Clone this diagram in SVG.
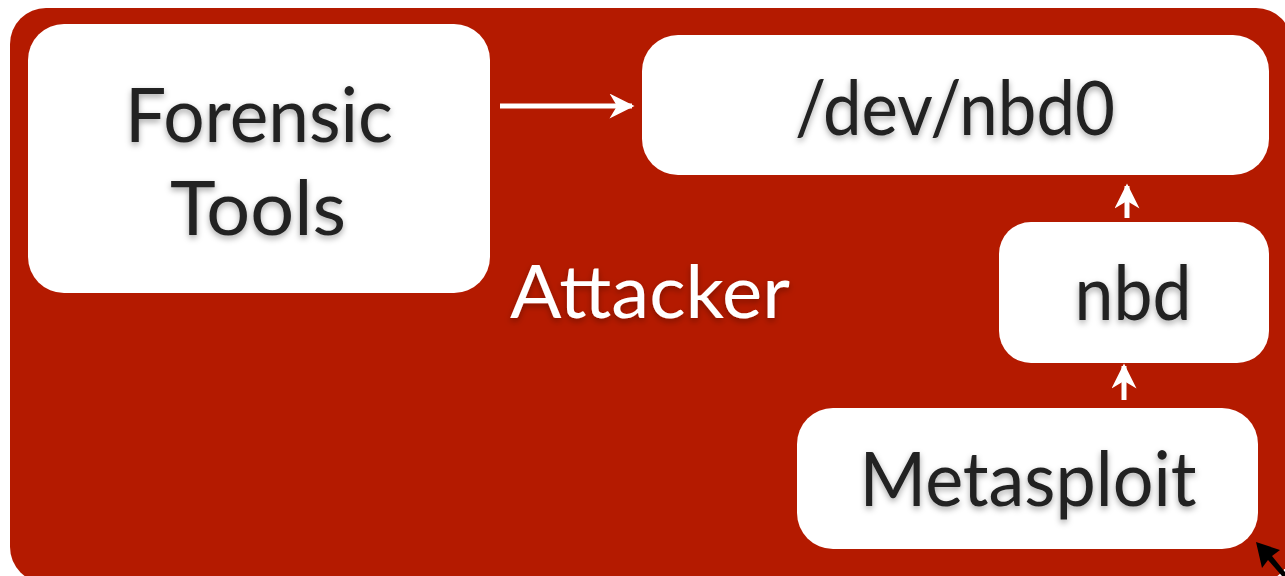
<svg xmlns="http://www.w3.org/2000/svg" width="1285" height="576" viewBox="0 0 1285 576">
<defs>
<style>
.box{fill:#ffffff}
.lbl{font-family:Lato,"Open Sans","Liberation Sans",sans-serif;fill:#222222;text-anchor:middle;filter:url(#sh)}
.title{font-family:Lato,"Open Sans","Liberation Sans",sans-serif;fill:#ffffff;text-anchor:middle;filter:url(#sh2)}
.conn{stroke:#ffffff;stroke-width:5;fill:none}
</style>
<filter id="sh" x="-10%" y="-20%" width="120%" height="150%">
<feDropShadow dx="0" dy="3" stdDeviation="3" flood-color="#000" flood-opacity="0.35"/>
</filter>
<filter id="sh2" x="-10%" y="-20%" width="120%" height="150%">
<feDropShadow dx="0" dy="3" stdDeviation="3" flood-color="#000" flood-opacity="0.3"/>
</filter>
<marker id="ah" viewBox="0 0 10 10" refX="9" refY="5" markerWidth="5.5" markerHeight="5" markerUnits="strokeWidth" orient="auto">
<path d="M0,0 L10,5 L0,10 L3,5 Z" fill="#ffffff"/>
</marker>
</defs>
<rect width="1285" height="576" fill="#ffffff"/>
<g id="attacker">
<rect x="10" y="8" width="1282" height="575" rx="36" fill="#b41a00"/>
<text class="title" x="650" y="318" font-size="74" textLength="280" lengthAdjust="spacingAndGlyphs">Attacker</text>
</g>
<g id="forensic-tools">
<rect class="box" x="28" y="24" width="462" height="269" rx="36"/>
<text class="lbl" x="259" y="142" font-size="76" textLength="268" lengthAdjust="spacingAndGlyphs">Forensic</text>
<text class="lbl" x="258" y="235" font-size="76" textLength="176" lengthAdjust="spacingAndGlyphs">Tools</text>
</g>
<g id="dev-nbd0">
<rect class="box" x="642" y="35" width="627" height="140" rx="36"/>
<text class="lbl" x="955" y="135" font-size="76" textLength="320" lengthAdjust="spacingAndGlyphs">/dev/nbd0</text>
</g>
<g id="nbd">
<rect class="box" x="999" y="222" width="270" height="141" rx="32"/>
<text class="lbl" x="1133" y="320" font-size="76" textLength="117" lengthAdjust="spacingAndGlyphs">nbd</text>
</g>
<g id="metasploit">
<rect class="box" x="797" y="408" width="461" height="141" rx="36"/>
<text class="lbl" x="1028" y="506" font-size="76" textLength="337" lengthAdjust="spacingAndGlyphs">Metasploit</text>
</g>
<g id="connectors">
<line class="conn" x1="500" y1="106" x2="632" y2="106" marker-end="url(#ah)"/>
<line class="conn" x1="1127" y1="218" x2="1127" y2="186" marker-end="url(#ah)"/>
<line class="conn" x1="1124" y1="400" x2="1124" y2="366" marker-end="url(#ah)"/>
</g>
<g id="cursor">
<polygon points="1256,542 1262,568 1268,560 1282,576 1285,576 1285,572 1272,556 1280,550" fill="#000000"/>
</g>
</svg>
